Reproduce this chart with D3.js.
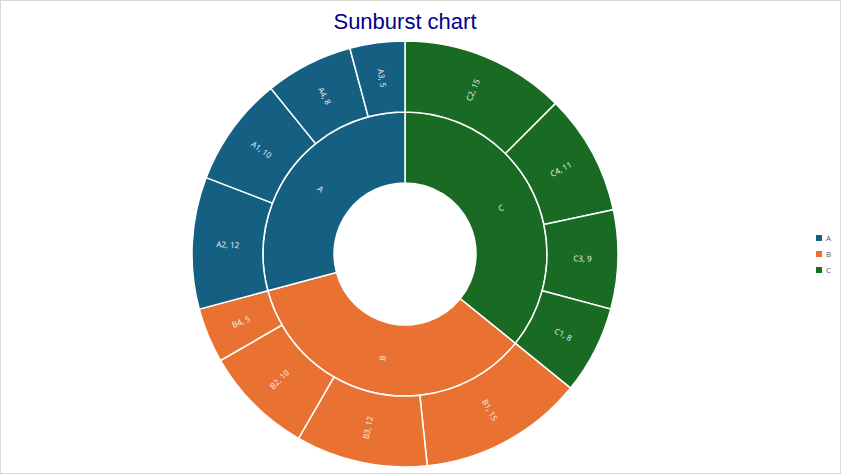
<!DOCTYPE html>
<html><head><meta charset="utf-8">
<script src="https://cdn.jsdelivr.net/npm/d3@7"></script>
<style>
html,body{margin:0;padding:0;background:#fff;}
svg{display:block;}
</style></head>
<body>
<svg id="chart" width="841" height="474"></svg>
<script>
const groups = ["A", "B", "C"];
const groupColors = ["#156082", "#E97132", "#196B24"];
const leafNames = {
  A: ["A1", "A2", "A3", "A4"],
  B: ["B1", "B2", "B3", "B4"],
  C: ["C1", "C2", "C3", "C4"]
};
const leafValues = {
  A: [10, 12, 5, 8],
  B: [15, 10, 12, 5],
  C: [8, 15, 9, 11]
};

const W = 841, H = 474;
const cx = 405, cy = 254, R = 213;
const svg = d3.select("#chart");

svg.append("rect").attr("x", 0.5).attr("y", 0.5).attr("width", W - 1).attr("height", H - 1)
  .attr("fill", "#fff").attr("stroke", "#d9d9d9");

svg.append("text").attr("x", 405).attr("y", 29).attr("text-anchor", "middle")
  .attr("font-family", "Liberation Sans, Arial, sans-serif").attr("font-size", 22)
  .attr("fill", "#00008B").text("Sunburst chart");

const data = {
  name: "root",
  children: groups.map(g => ({
    name: g,
    children: leafNames[g].map((n, i) => ({ name: n, value: leafValues[g][i] }))
  }))
};

const root = d3.hierarchy(data).sum(d => d.value || 0).sort((a, b) => b.value - a.value);
d3.partition().size([2 * Math.PI, 3])(root);

const rScale = d3.scaleLinear().domain([0, 3]).range([0, R]);
const color = d3.scaleOrdinal().domain(groups).range(groupColors);

const arc = d3.arc()
  .startAngle(d => d.x0).endAngle(d => d.x1)
  .innerRadius(d => rScale(d.y0)).outerRadius(d => rScale(d.y1));

const g = svg.append("g").attr("transform", `translate(${cx},${cy})`);
const nodes = root.descendants().filter(d => d.depth > 0);

g.selectAll("path").data(nodes).join("path")
  .attr("d", arc)
  .attr("fill", d => color(d.depth === 1 ? d.data.name : d.parent.data.name))
  .attr("stroke", "#fff").attr("stroke-width", 1.5);

g.selectAll("text").data(nodes).join("text")
  .attr("transform", d => {
    const a = (d.x0 + d.x1) / 2 * 180 / Math.PI;
    const r = rScale((d.y0 + d.y1) / 2);
    return `rotate(${a - 90}) translate(${r},0) rotate(${a < 180 ? 0 : 180})`;
  })
  .attr("text-anchor", "middle").attr("dy", "0.35em")
  .attr("font-family", "Open Sans, sans-serif").attr("font-size", 8)
  .attr("fill", "#f5f5f5")
  .text(d => d.depth === 1 ? d.data.name : `${d.data.name}, ${d.value}`);

const legend = svg.append("g");
groups.forEach((gname, i) => {
  const y = 238 + i * 16;
  legend.append("rect").attr("x", 816).attr("y", y - 3).attr("width", 6).attr("height", 6)
    .attr("fill", groupColors[i]);
  legend.append("text").attr("x", 826).attr("y", y).attr("dy", "0.35em")
    .attr("font-family", "Open Sans, sans-serif").attr("font-size", 8)
    .attr("fill", "#595959").text(gname);
});
</script>
</body></html>
